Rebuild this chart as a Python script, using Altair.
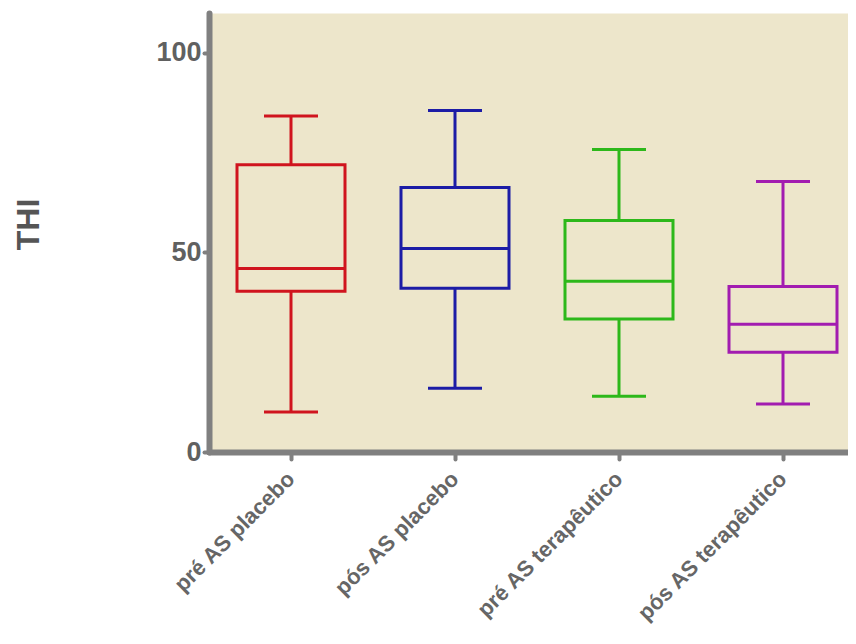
import altair as alt
import pandas as pd

groups = ["pré AS placebo", "pós AS placebo", "pré AS terapêutico", "pós AS terapêutico"]
whisker_low = [10, 16, 14, 12]
q1 = [40.3, 41, 33.3, 25]
median = [46, 51, 42.8, 32]
q3 = [72, 66.3, 58, 41.5]
whisker_high = [84.2, 85.6, 75.8, 67.8]
colors = ["#D0141E", "#1C1CA6", "#2DB81A", "#A21CB0"]

df = pd.DataFrame({
    "group": groups, "low": whisker_low, "q1": q1, "median": median,
    "q3": q3, "high": whisker_high,
})

font = "Liberation Sans"
gray = "#808080"

x = alt.X("group:N", sort=groups, title=None,
          scale=alt.Scale(paddingInner=0, paddingOuter=0, range=[0, 656]),
          axis=alt.Axis(labelAngle=315, labelAlign="right", labelBaseline="middle",
                        labelFontSize=22, labelFontWeight="bold", labelColor="#666666",
                        labelFont=font, labelPadding=16, labelLimit=400, labelOverlap=False,
                        domainColor=gray, domainWidth=6, domainCap="round",
                        tickColor=gray, tickWidth=4, tickSize=7, tickCap="round"))
yscale = alt.Scale(domain=[0, 110], nice=False)
yaxis = alt.Axis(values=[0, 50, 100], grid=False, title="THI",
                 titleFont=font, titleFontSize=32, titleFontWeight="bold", titleColor="#555555",
                 titleX=-181, titleY=211, titleAngle=270, titleAlign="center", titleBaseline="middle",
                 labelFont=font, labelFontSize=27, labelFontWeight="bold", labelColor="#606060",
                 labelPadding=3, domainColor=gray, domainWidth=6, domainCap="round",
                 tickColor=gray, tickWidth=4, tickSize=5, tickCap="round")
color = alt.Color("group:N", scale=alt.Scale(domain=groups, range=colors), legend=None)

base = alt.Chart(df)
whisker = base.mark_rule(strokeWidth=3).encode(
    x=x, y=alt.Y("low:Q", scale=yscale, axis=yaxis), y2="high:Q", color=color)
box = base.mark_bar(size=108, fill="#EDE6CB", strokeWidth=3).encode(
    x=x, y=alt.Y("q1:Q", scale=yscale), y2="q3:Q", stroke=color)
med = base.mark_tick(size=108, thickness=3, opacity=1).encode(
    x=x, y=alt.Y("median:Q", scale=yscale), color=color)
cap_low = base.mark_tick(size=54, thickness=3, opacity=1).encode(
    x=x, y=alt.Y("low:Q", scale=yscale), color=color)
cap_high = base.mark_tick(size=54, thickness=3, opacity=1).encode(
    x=x, y=alt.Y("high:Q", scale=yscale), color=color)

chart = alt.layer(whisker, box, med, cap_low, cap_high).properties(
    width=639, height=439,
    autosize=alt.AutoSizeParams(type="none"),
    padding={"left": 201, "top": 5, "right": 0, "bottom": 184},
    background="white",
).configure_view(fill="#EDE6CB", stroke="transparent")

chart.save("out.html", embed_options={"renderer": "svg", "actions": False})
